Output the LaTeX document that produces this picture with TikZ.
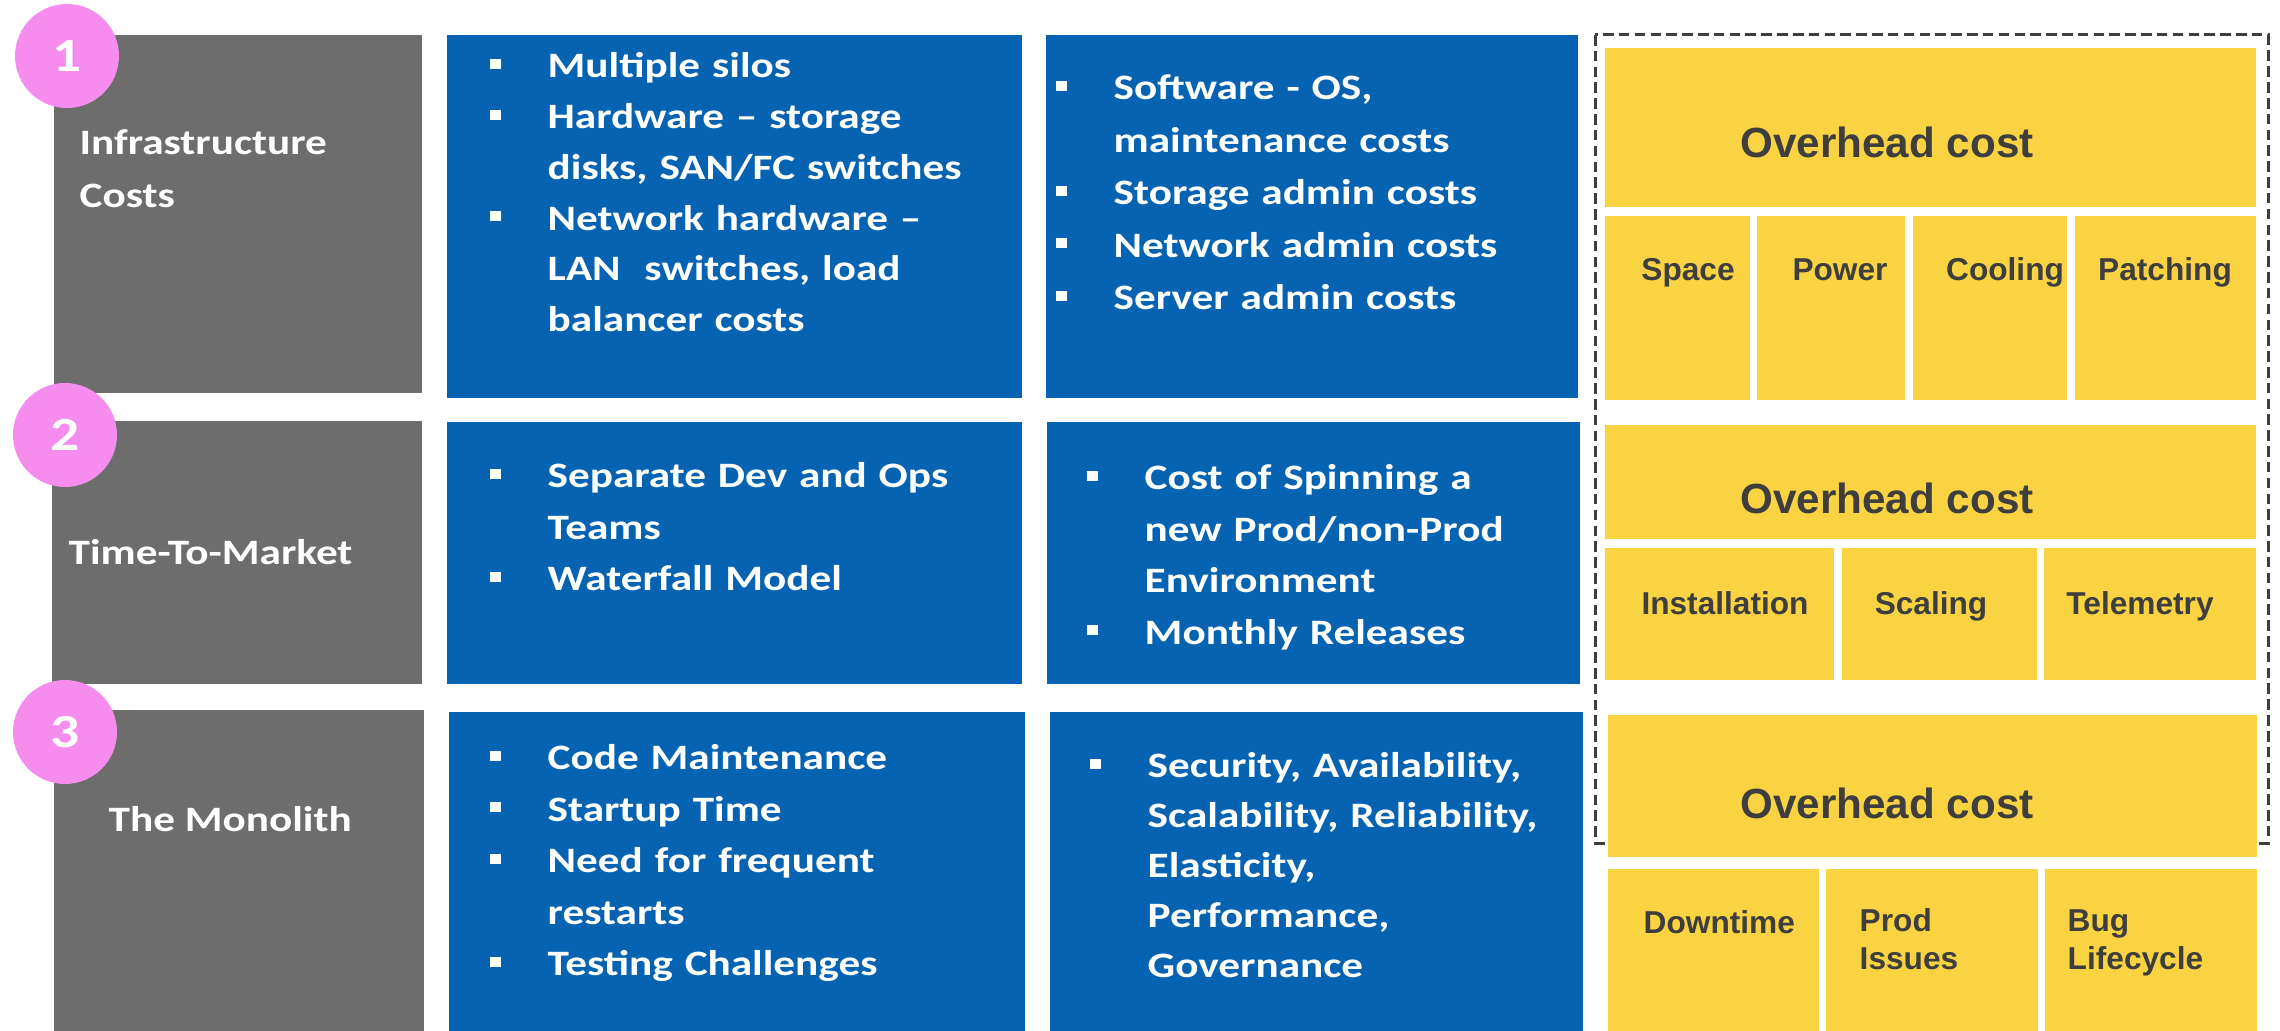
\documentclass[tikz,border=0pt]{standalone}
\usepackage{fontspec}
\setmainfont{Carlito}
\newfontfamily\calibrifont[FakeStretch=1.21]{Carlito}
\newfontfamily\arialfont{Liberation Sans}

\newlength\pxu
\setlength\pxu{0.01cm}
\setlength\parskip{0pt}
\newcommand\sqbullet{\rule[9\pxu]{11\pxu}{10\pxu}}
\newcommand\bmark{\hangindent=58\pxu\hangafter=1\relax\makebox[58\pxu][l]{\sqbullet}\rule{0pt}{30\pxu}}
\newcommand\bitem{\par\noindent\bmark}
\newcommand\firstline{\rule{0pt}{30\pxu}}

\definecolor{boxgray}{RGB}{109,109,109}
\definecolor{boxblue}{RGB}{6,99,177}
\definecolor{boxyellow}{RGB}{250,211,66}
\definecolor{badgepink}{RGB}{246,140,238}
\definecolor{inkgray}{RGB}{62,62,62}

\begin{document}
\begin{tikzpicture}[x=0.01cm, y=-0.01cm,
    bluelist/.style={anchor=north west, inner sep=0pt, text width=560\pxu, text=white,
      font=\calibrifont\bfseries\fontsize{10.16}{#1}\selectfont},
    bluelist/.default=14.65,
    rowlabel/.style={inner sep=0pt, text=white,
      font=\calibrifont\bfseries\fontsize{10.16}{15.08}\selectfont},
    headtext/.style={anchor=base, inner sep=0pt, text=inkgray,
      font=\arialfont\bfseries\fontsize{12}{14}\selectfont},
    subtext/.style={inner sep=0pt, text=inkgray,
      font=\arialfont\bfseries\fontsize{9}{10.8}\selectfont},
    badge/.style={circle, fill=badgepink, minimum size=104\pxu, inner sep=0pt, text=white,
      font=\calibrifont\bfseries\fontsize{13.5}{16}\selectfont}]
  \useasboundingbox (0,0) rectangle (2280,1031);
  \fill[white] (0,0) rectangle (2280,1031);

  % Row headers
  \fill[boxgray] (54,35) rectangle (422,393);
  \fill[boxgray] (52,421) rectangle (422,684);
  \fill[boxgray] (54,710) rectangle (424,1031);

  % Blue cost columns
  \fill[boxblue] (447,35) rectangle (1022,398);
  \fill[boxblue] (447,422) rectangle (1022,684);
  \fill[boxblue] (449,712) rectangle (1025,1031);
  \fill[boxblue] (1046,35) rectangle (1578,398);
  \fill[boxblue] (1047,422) rectangle (1580,684);
  \fill[boxblue] (1050,712) rectangle (1583,1031);

  % Dashed frame round the overhead blocks
  \draw[inkgray, line width=0.85pt, dash pattern=on 3pt off 1.5pt] (1595,35) rectangle (2268,843);

  % Overhead blocks, row 1
  \fill[boxyellow] (1605,48) rectangle (2256,207);
  \fill[boxyellow] (1605,216) rectangle (1750,400);
  \fill[boxyellow] (1757,216) rectangle (1905,400);
  \fill[boxyellow] (1913,216) rectangle (2067,400);
  \fill[boxyellow] (2075,216) rectangle (2256,400);

  % Overhead blocks, row 2
  \fill[boxyellow] (1605,425) rectangle (2256,539);
  \fill[boxyellow] (1605,548) rectangle (1834,680);
  \fill[boxyellow] (1842,548) rectangle (2037,680);
  \fill[boxyellow] (2044,548) rectangle (2256,680);

  % Overhead blocks, row 3
  \fill[boxyellow] (1608,715) rectangle (2257,857);
  \fill[boxyellow] (1608,869) rectangle (1819,1031);
  \fill[boxyellow] (1826,869) rectangle (2038,1031);
  \fill[boxyellow] (2045,869) rectangle (2257,1031);

  % Numbered badges
  \node[badge] (badge1) at (67,56) {1};
  \node[badge] (badge2) at (65,435) {2};
  \node[badge] (badge3) at (65,732) {3};

  % Row titles
  \node[rowlabel, anchor=north west, text width=340\pxu] (infra) at (79,124) {\firstline Infrastructure\newline Costs};
  \node[rowlabel, anchor=base west] (ttm) at (68,564) {Time-To-Market};
  \node[rowlabel, anchor=base west] (mono) at (108,831) {The Monolith};

  % Cost lists
  \node[bluelist=14.45] (infra-hw) at (489,47) {%
    \bmark Multiple silos
    \bitem Hardware – storage\newline disks, SAN/FC switches
    \bitem Network hardware –\newline LAN\ \ switches, load\newline balancer costs\par};
  \node[bluelist=14.94] (infra-sw) at (1055,69) {%
    \bmark Software - OS,\newline maintenance costs
    \bitem Storage admin costs
    \bitem Network admin costs
    \bitem Server admin costs\par};
  \node[bluelist] (ttm-team) at (489,457) {%
    \bmark Separate Dev and Ops\newline Teams
    \bitem Waterfall Model\par};
  \node[bluelist] (ttm-env) at (1086,459) {%
    \bmark Cost of Spinning a\newline new Prod/non-Prod\newline Environment
    \bitem Monthly Releases\par};
  \node[bluelist] (mono-code) at (489,739) {%
    \bmark Code Maintenance
    \bitem Startup Time
    \bitem Need for frequent\newline restarts
    \bitem Testing Challenges\par};
  \node[bluelist=14.23] (mono-qual) at (1089,747) {%
    \bmark Security, Availability,\newline Scalability, Reliability,\newline Elasticity,\newline Performance,\newline Governance\par};

  % Overhead labels
  \node[headtext] (ovh1) at (1887,158) {Overhead cost};
  \node[headtext] (ovh2) at (1887,514) {Overhead cost};
  \node[headtext] (ovh3) at (1887,818) {Overhead cost};

  \node[subtext, anchor=base] (space) at (1688,281) {Space};
  \node[subtext, anchor=base] (power) at (1840,281) {Power};
  \node[subtext, anchor=base] (cooling) at (2005,281) {Cooling};
  \node[subtext, anchor=base] (patching) at (2165,281) {Patching};

  \node[subtext, anchor=base] (install) at (1725,614) {Installation};
  \node[subtext, anchor=base] (scaling) at (1931,614) {Scaling};
  \node[subtext, anchor=base] (telemetry) at (2140,614) {Telemetry};

  \node[subtext, anchor=base west] (downtime) at (1643,933) {Downtime};
  \node[subtext, anchor=north west, text width=180\pxu] (prodiss) at (1859,907) {\rule{0pt}{24\pxu}Prod\newline Issues};
  \node[subtext, anchor=north west, text width=180\pxu] (buglife) at (2067,907) {\rule{0pt}{24\pxu}Bug\newline Lifecycle};
\end{tikzpicture}
\end{document}
